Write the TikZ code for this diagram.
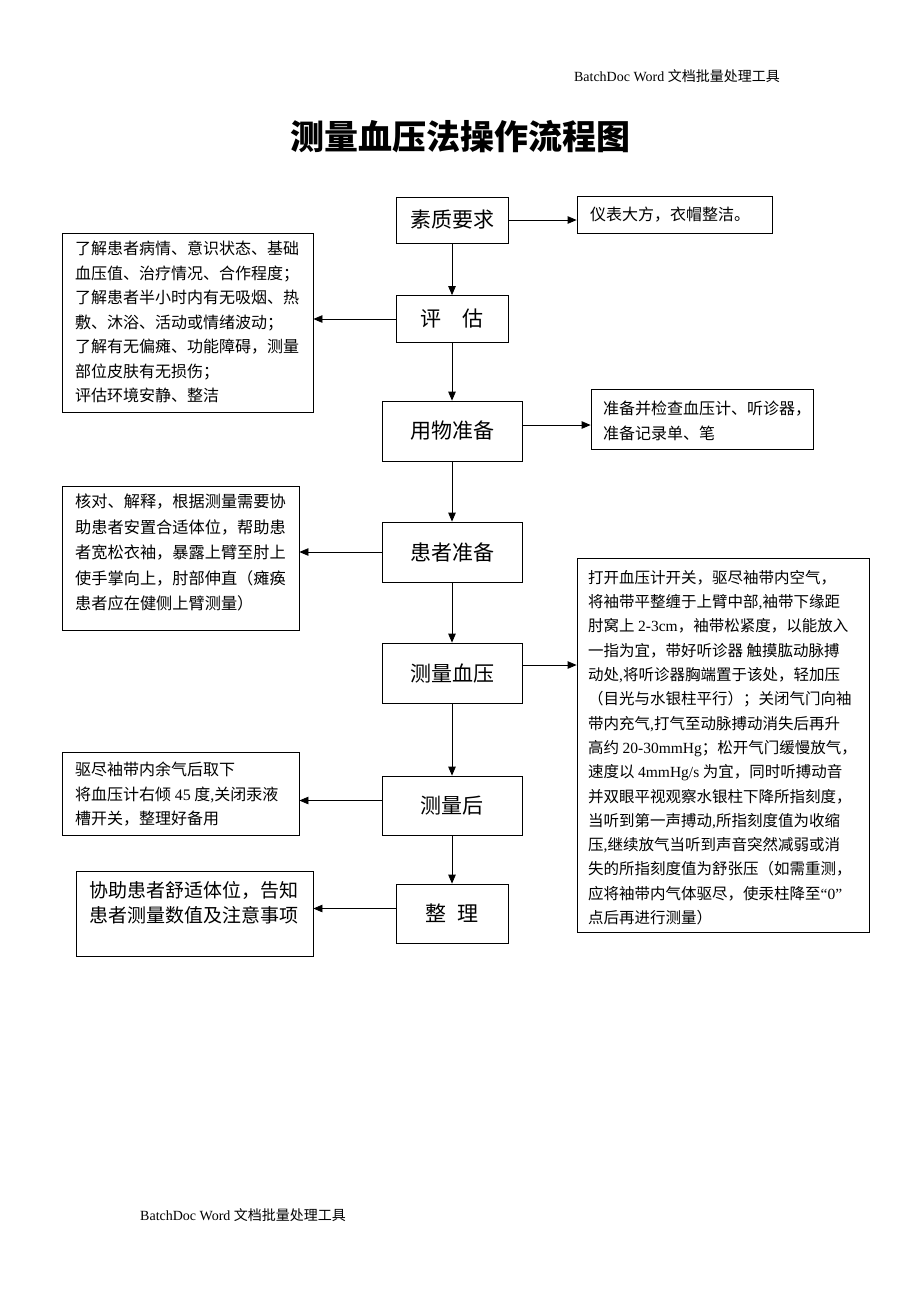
\documentclass[tikz,border=0pt]{standalone}
\usepackage{fontspec}
\setmainfont{Liberation Serif}
\newfontfamily\cjk{Noto Sans CJK SC}
\newfontfamily\latf{Liberation Serif}
\newcommand\lattxt[1]{{\latf #1}}
\usetikzlibrary{arrows.meta}
\tikzset{
  box/.style={draw,line width=0.8pt,inner sep=0pt},
  arr/.style={line width=0.8pt,-{Triangle[length=9pt,width=7.5pt]}},
  mtext/.style={font=\cjk\fontsize{21}{24}\selectfont},
  stext/.style={inner sep=0pt,anchor=north west,align=left},
  sfont/.style={font=\cjk\fontsize{16}{24.5}\selectfont}
}
\begin{document}
\begin{tikzpicture}[x=1pt,y=-1pt]
\useasboundingbox[fill=white] (0,0) rectangle (920,1302);
% header / footer
\node[anchor=east,inner sep=0pt,font=\fontsize{14}{16}\selectfont] (hdr) at (780,76) {BatchDoc Word {\cjk 文档批量处理工具}};
\node[anchor=west,inner sep=0pt,font=\fontsize{14}{16}\selectfont] (ftr) at (140,1215) {BatchDoc Word {\cjk 文档批量处理工具}};
% title
\node[font=\cjk\bfseries\fontsize{34}{40}\selectfont] (title) at (460,137) {测量血压法操作流程图};
% main boxes
\node[box,mtext,minimum width=112pt,minimum height=46pt] (s1) at (452,220) {素质要求};
\node[box,mtext,minimum width=112pt,minimum height=47pt] (s2) at (452,319) {评\hspace{1em}估};
\node[box,mtext,minimum width=140pt,minimum height=60pt] (s3) at (452,431) {用物准备};
\node[box,mtext,minimum width=140pt,minimum height=60pt] (s4) at (452,552) {患者准备};
\node[box,mtext,minimum width=140pt,minimum height=60pt] (s5) at (452,673) {测量血压};
\node[box,mtext,minimum width=140pt,minimum height=59pt] (s6) at (452,805.5) {测量后};
\node[box,mtext,minimum width=112pt,minimum height=59pt] (s7) at (452,913.5) {整\hspace{0.5em}理};
% side boxes
\node[box,minimum width=195pt,minimum height=37pt] (r1) at (674.5,214.5) {};
\node[box,minimum width=251pt,minimum height=179pt] (l1) at (187.5,322.5) {};
\node[box,minimum width=222pt,minimum height=60pt] (r2) at (702,419) {};
\node[box,minimum width=237pt,minimum height=144pt] (l2) at (180.5,558) {};
\node[box,minimum width=292pt,minimum height=374pt] (r3) at (723,745) {};
\node[box,minimum width=237pt,minimum height=83pt] (l3) at (180.5,793.5) {};
\node[box,minimum width=237pt,minimum height=85pt] (l4) at (194.5,913.5) {};
% side texts
\node[stext,sfont] (r1t) at (590,207) {仪表大方，衣帽整洁。};
\node[stext,sfont] (l1t) at (75,241) {了解患者病情、意识状态、基础\\血压值、治疗情况、合作程度；\\了解患者半小时内有无吸烟、热\\敷、沐浴、活动或情绪波动；\\了解有无偏瘫、功能障碍，测量\\部位皮肤有无损伤；\\评估环境安静、整洁};
\node[stext,sfont] (r2t) at (603,401) {准备并检查血压计、听诊器，\\准备记录单、笔};
\node[stext,font=\cjk\fontsize{16.2}{25.5}\selectfont] (l2t) at (75,494) {核对、解释，根据测量需要协\\助患者安置合适体位，帮助患\\者宽松衣袖，暴露上臂至肘上\\使手掌向上，肘部伸直（瘫痪\\患者应在健侧上臂测量）};
\node[stext,font=\cjk\fontsize{15.5}{24.3}\selectfont] (r3t) at (588,570) {打开血压计开关，驱尽袖带内空气，\\将袖带平整缠于上臂中部\lattxt{,}袖带下缘距\\肘窝上 \lattxt{2-3cm}，袖带松紧度，以能放入\\一指为宜，带好听诊器 触摸肱动脉搏\\动处\lattxt{,}将听诊器胸端置于该处，轻加压\\（目光与水银柱平行）；关闭气门向袖\\带内充气\lattxt{,}打气至动脉搏动消失后再升\\高约 \lattxt{20-30mmHg}；松开气门缓慢放气，\\速度以 \lattxt{4mmHg/s} 为宜，同时听搏动音\\并双眼平视观察水银柱下降所指刻度，\\当听到第一声搏动\lattxt{,}所指刻度值为收缩\\压\lattxt{,}继续放气当听到声音突然减弱或消\\失的所指刻度值为舒张压（如需重测，\\应将袖带内气体驱尽，使汞柱降至\lattxt{“0”}\\点后再进行测量）};
\node[stext,sfont] (l3t) at (75,762) {驱尽袖带内余气后取下\\将血压计右倾 \lattxt{45} 度\lattxt{,}关闭汞液\\槽开关，整理好备用};
\node[stext,font=\cjk\fontsize{19}{25.5}\selectfont] (l4t) at (89,881) {协助患者舒适体位，告知\\患者测量数值及注意事项};
% vertical arrows
\draw[arr] (s1) -- (s2);
\draw[arr] (s2) -- (s3);
\draw[arr] (s3) -- (s4);
\draw[arr] (s4) -- (s5);
\draw[arr] (s5) -- (s6);
\draw[arr] (s6) -- (s7);
% horizontal arrows
\draw[arr] (s1.east) -- (s1.east -| r1.west);
\draw[arr] (s2.west) -- (s2.west -| l1.east);
\draw[arr] ([yshift=6pt]s3.east) -- ([yshift=6pt]s3.east -| r2.west);
\draw[arr] (s4.west) -- (s4.west -| l2.east);
\draw[arr] ([yshift=8pt]s5.east) -- ([yshift=8pt]s5.east -| r3.west);
\draw[arr] ([yshift=5pt]s6.west) -- ([yshift=5pt]s6.west -| l3.east);
\draw[arr] ([yshift=5pt]s7.west) -- ([yshift=5pt]s7.west -| l4.east);
\end{tikzpicture}
\end{document}
